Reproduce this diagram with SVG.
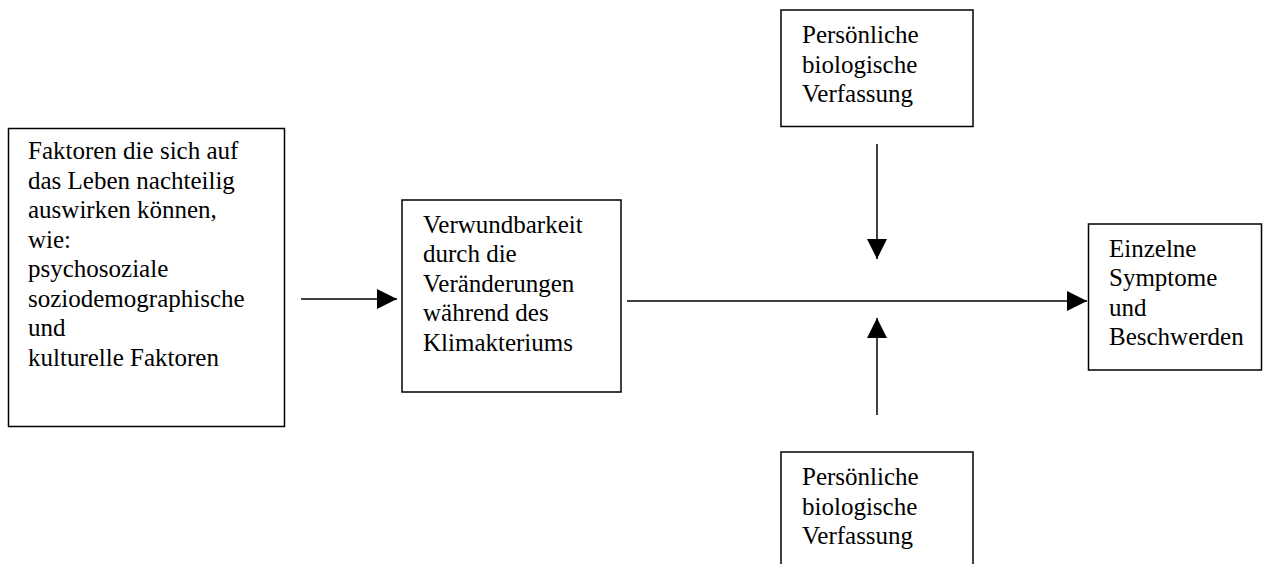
<svg xmlns="http://www.w3.org/2000/svg" width="1264" height="564" viewBox="0 0 1264 564">
<style>
.box{fill:#fff;stroke:#000;stroke-width:1.5}
.t{font-family:"Liberation Serif","Times New Roman",serif;font-size:25px;fill:#000}
.c{stroke:#000;stroke-width:1.5;fill:none;marker-end:url(#ah)}
</style>
<defs>
<marker id="ah" markerUnits="userSpaceOnUse" markerWidth="20" markerHeight="20" refX="20" refY="10" orient="auto">
<path d="M0,0 L20,10 L0,20 z" fill="#000"/>
</marker>
</defs>
<rect width="1264" height="564" fill="#fff"/>
<g id="connectors">
<line class="c" x1="301" y1="299" x2="397" y2="299"/>
<line class="c" x1="627" y1="301" x2="1087" y2="301"/>
<line class="c" x1="877" y1="144" x2="877" y2="259"/>
<line class="c" x1="877" y1="415" x2="877" y2="318"/>
</g>
<g id="factors">
<rect class="box" x="8.5" y="128.5" width="276" height="298"/>
<text class="t" x="28">
<tspan x="28" y="159">Faktoren die sich auf</tspan>
<tspan x="28" y="188.5">das Leben nachteilig</tspan>
<tspan x="28" y="218">auswirken können,</tspan>
<tspan x="28" y="247.5">wie:</tspan>
<tspan x="28" y="277">psychosoziale</tspan>
<tspan x="28" y="306.5">soziodemographische</tspan>
<tspan x="28" y="336">und</tspan>
<tspan x="28" y="365.5">kulturelle Faktoren</tspan>
</text>
</g>
<g id="vulnerability">
<rect class="box" x="402" y="200" width="219" height="192"/>
<text class="t">
<tspan x="423" y="232.5">Verwundbarkeit</tspan>
<tspan x="423" y="262">durch die</tspan>
<tspan x="423" y="291.5">Veränderungen</tspan>
<tspan x="423" y="321">während des</tspan>
<tspan x="423" y="350.5">Klimakteriums</tspan>
</text>
</g>
<g id="bio-top">
<rect class="box" x="781" y="10" width="192" height="116.5"/>
<text class="t">
<tspan x="802" y="43">Persönliche</tspan>
<tspan x="802" y="72.5">biologische</tspan>
<tspan x="802" y="102">Verfassung</tspan>
</text>
</g>
<g id="bio-bottom">
<rect class="box" x="781" y="452" width="192" height="140"/>
<text class="t">
<tspan x="802" y="485">Persönliche</tspan>
<tspan x="802" y="514.5">biologische</tspan>
<tspan x="802" y="544">Verfassung</tspan>
</text>
</g>
<g id="symptoms">
<rect class="box" x="1088.5" y="224" width="173" height="146"/>
<text class="t">
<tspan x="1109" y="256.5">Einzelne</tspan>
<tspan x="1109" y="286">Symptome</tspan>
<tspan x="1109" y="315.5">und</tspan>
<tspan x="1109" y="345">Beschwerden</tspan>
</text>
</g>
</svg>
